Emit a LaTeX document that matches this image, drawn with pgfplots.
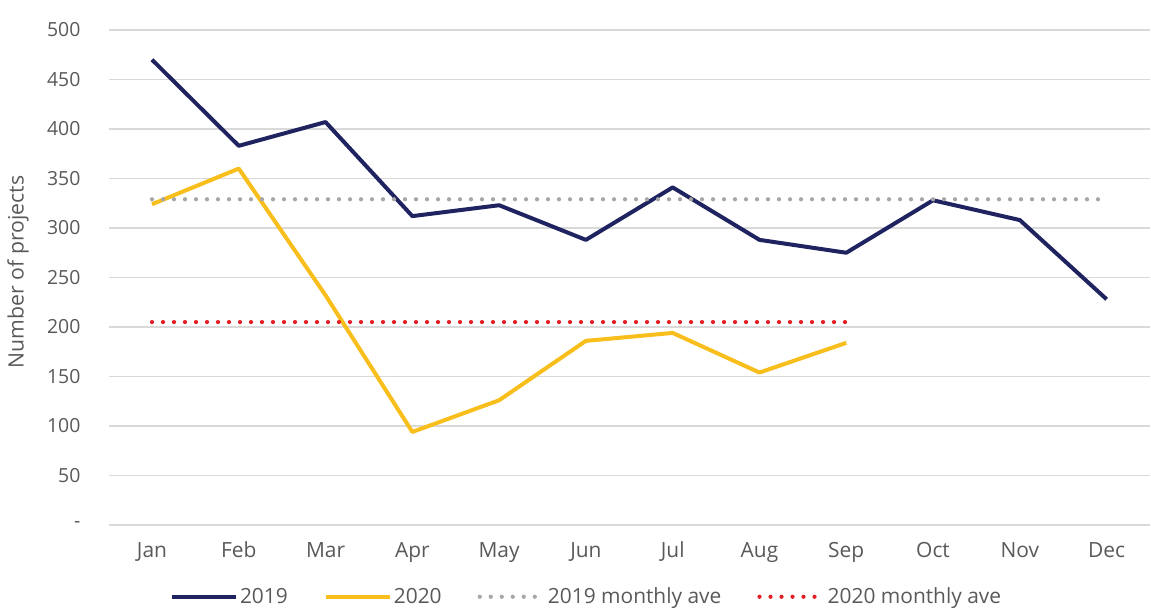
\documentclass[border=0pt]{standalone}
\usepackage{fontspec}
\setmainfont{Open Sans}
\usepackage{pgfplots}
\pgfplotsset{compat=1.18}
\definecolor{navyline}{HTML}{1F2461}
\definecolor{goldline}{HTML}{F8BE1C}
\definecolor{avggray}{HTML}{A6A6A6}
\definecolor{avgred}{HTML}{E31E24}
\definecolor{gridgray}{HTML}{D9D9D9}
\definecolor{txtgray}{HTML}{595959}
\pgfplotstableread{
x y
0 470
1 383
2 407
3 312
4 323
5 288
6 341
7 288
8 275
9 328
10 308
11 228
}\dataA
\pgfplotstableread{
x y
0 324
1 360
2 232
3 94
4 126
5 186
6 194
7 154
8 184
}\dataB
\begin{document}
\begin{tikzpicture}[x=1bp,y=1bp]
\useasboundingbox (0,0) rectangle (1151,610);
\begin{axis}[
  at={(108.6bp,85bp)}, anchor=south west,
  width=1041.4bp, height=495bp, scale only axis,
  xmin=-0.5, xmax=11.5, ymin=0, ymax=500,
  axis line style={draw=none},
  tick style={draw=none},
  xtick={0,...,11},
  xticklabels={Jan,Feb,Mar,Apr,May,Jun,Jul,Aug,Sep,Oct,Nov,Dec},
  ytick={0,50,...,500},
  yticklabels={-,50,100,150,200,250,300,350,400,450,500},
  ymajorgrids, grid style={gridgray, line width=1.3bp},
  yticklabel style={font=\fontsize{19.5}{22}\selectfont, text=txtgray, anchor=east, inner sep=0pt, xshift=-28bp},
  xticklabel style={font=\fontsize{21}{24}\selectfont, text=txtgray, anchor=base, inner sep=0pt, yshift=-33bp},
  ylabel={Number of projects},
  ylabel style={at={(axis description cs:-0.087,0.511)}, anchor=center, font=\fontsize{21.3}{24}\selectfont, text=txtgray},
  legend columns=4,
  legend style={at={(axis description cs:0.459,-0.145)}, anchor=center, draw=none, fill=none,
    font=\fontsize{21}{24}\selectfont, text=txtgray,
    /tikz/every even column/.append style={column sep=34bp}},
  legend image code/.code={\draw[#1] (0bp,0bp) -- (64bp,0bp);},
]
\addplot[navyline, line width=4bp, line join=round] table[x=x,y=y] {\dataA};
\addlegendentry{2019}
\addplot[goldline, line width=4bp, line join=round] table[x=x,y=y] {\dataB};
\addlegendentry{2020}
\addplot[avggray, line width=4.2bp, line cap=round, dash pattern=on 0bp off 11bp] coordinates {(0,329) (11,329)};
\addlegendentry{2019 monthly ave}
\addplot[avgred, line width=4.2bp, line cap=round, dash pattern=on 0bp off 11bp] coordinates {(0,205) (8,205)};
\addlegendentry{2020 monthly ave}
\end{axis}
\end{tikzpicture}
\end{document}
